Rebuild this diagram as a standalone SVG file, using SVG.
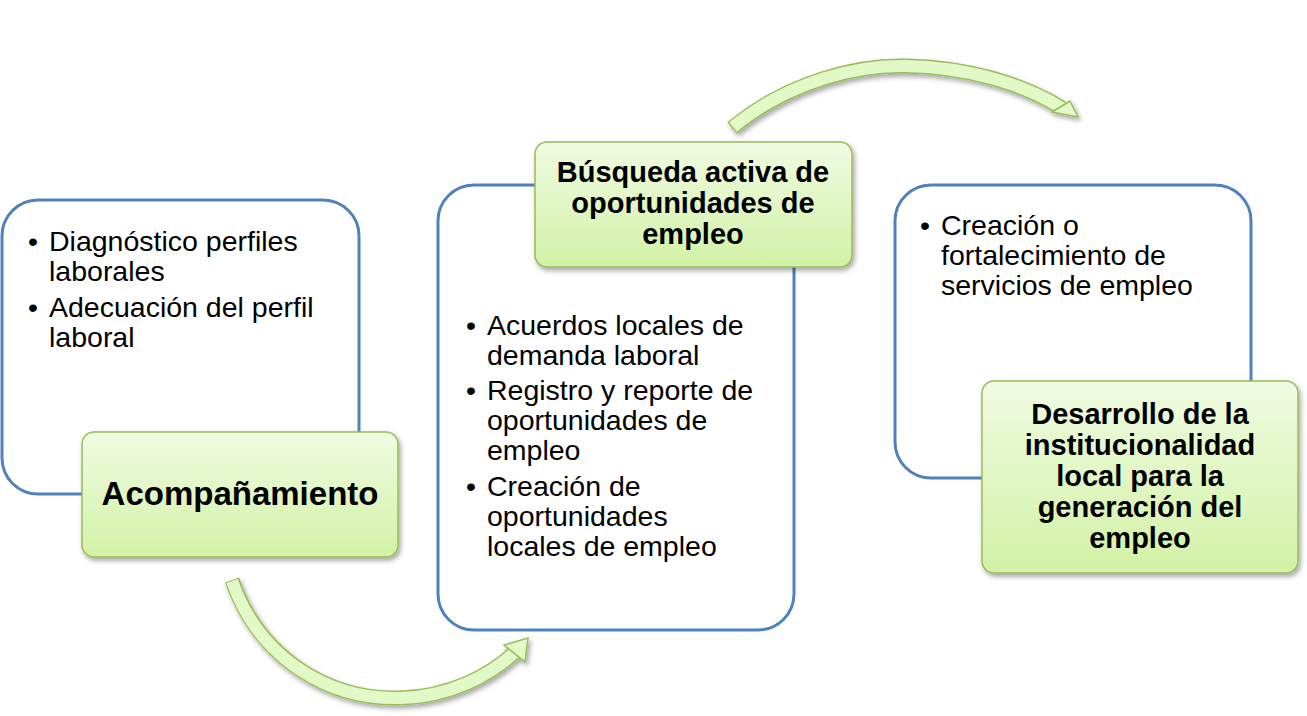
<svg xmlns="http://www.w3.org/2000/svg" width="1307" height="716" viewBox="0 0 1307 716">
<defs>
<linearGradient id="g" x1="0" y1="0" x2="0" y2="1"><stop offset="0" stop-color="#f0fbe2"/><stop offset="1" stop-color="#d2f2a6"/></linearGradient>
<filter id="sh" x="-10%" y="-10%" width="130%" height="130%"><feDropShadow dx="2" dy="3" stdDeviation="2.5" flood-color="#000" flood-opacity="0.35"/></filter>
</defs>
<style>
.w{fill:#fff;stroke:#4f81bd;stroke-width:3}
.gb{fill:url(#g);stroke:#9bbb59;stroke-width:1.5;filter:url(#sh)}
.t{font-family:"Liberation Sans",Arial,sans-serif;font-size:28.5px;fill:#000}
.b{font-family:"Liberation Sans",Arial,sans-serif;font-size:29px;font-weight:bold;fill:#000;text-anchor:middle}
.ao{fill:none;stroke:#9bbb59;stroke-width:15}
.ai{fill:none;stroke:#e2f8c6;stroke-width:12}
.ah{fill:#e2f8c6;stroke:#9bbb59;stroke-width:1.5}
</style>
<g id="connectors" filter="url(#sh)">
<path class="ao" d="M232,580 C260,660 330,700 400,698 C450,697 490,675 514,653"/>
<path class="ai" d="M232,581 C260,660 330,700 400,698 C450,697 490,675 514,653"/>
<polygon class="ah" points="528,638 504,645 525,662"/>
<path class="ao" d="M732,128 C790,80 860,65 905,66 C970,67 1025,85 1062,108"/>
<path class="ai" d="M733,127 C790,80 860,65 905,66 C970,67 1025,85 1062,108"/>
<polygon class="ah" points="1078,117 1070,101 1052,112"/>
</g>
<g id="n1">
<rect class="w" x="2" y="200" width="357" height="294" rx="36"/>
<text class="t" x="28" y="251">•</text><text class="t" x="49" y="251">Diagnóstico perfiles</text>
<text class="t" x="49" y="281">laborales</text>
<text class="t" x="28" y="317">•</text><text class="t" x="49" y="317">Adecuación del perfil</text>
<text class="t" x="49" y="347">laboral</text>
</g>
<g id="n1h">
<rect class="gb" x="82" y="432" width="316" height="125" rx="12"/>
<text class="b" x="240" y="505" style="font-size:33px">Acompañamiento</text>
</g>
<g id="n2">
<rect class="w" x="438" y="185" width="356" height="445" rx="36"/>
<text class="t" x="466" y="335">•</text><text class="t" x="487" y="335">Acuerdos locales de</text>
<text class="t" x="487" y="365">demanda laboral</text>
<text class="t" x="466" y="400">•</text><text class="t" x="487" y="400">Registro y reporte de</text>
<text class="t" x="487" y="430">oportunidades de</text>
<text class="t" x="487" y="460">empleo</text>
<text class="t" x="466" y="496">•</text><text class="t" x="487" y="496">Creación de</text>
<text class="t" x="487" y="526">oportunidades</text>
<text class="t" x="487" y="556">locales de empleo</text>
</g>
<g id="n2h">
<rect class="gb" x="535" y="142" width="317" height="125" rx="12"/>
<text class="b" x="693" y="182">Búsqueda activa de</text>
<text class="b" x="693" y="213">oportunidades de</text>
<text class="b" x="693" y="244">empleo</text>
</g>
<g id="n3">
<rect class="w" x="895" y="185" width="356" height="293" rx="36"/>
<text class="t" x="920" y="235">•</text><text class="t" x="941" y="235">Creación o</text>
<text class="t" x="941" y="265">fortalecimiento de</text>
<text class="t" x="941" y="295">servicios de empleo</text>
</g>
<g id="n3h">
<rect class="gb" x="982" y="381" width="316" height="192" rx="12"/>
<text class="b" x="1140" y="424">Desarrollo de la</text>
<text class="b" x="1140" y="455">institucionalidad</text>
<text class="b" x="1140" y="486">local para la</text>
<text class="b" x="1140" y="517">generación del</text>
<text class="b" x="1140" y="548">empleo</text>
</g>
</svg>
